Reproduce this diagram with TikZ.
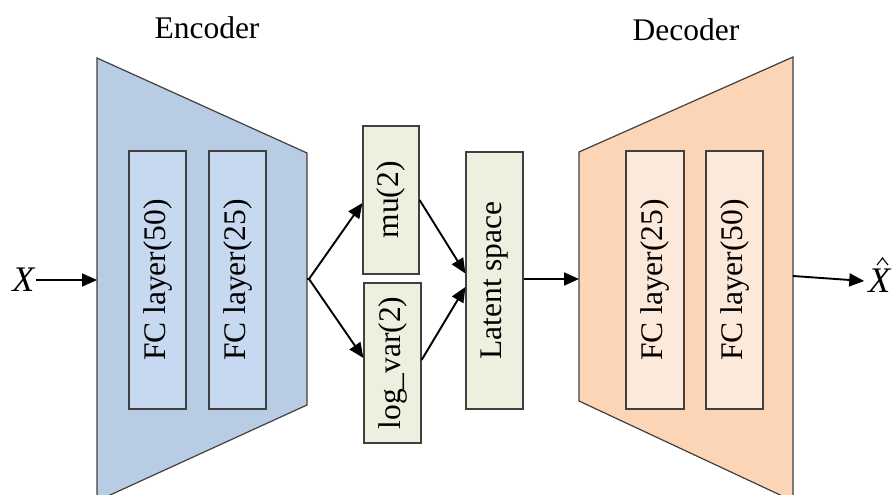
\documentclass[tikz,border=0pt]{standalone}
\usepackage{fontspec}
\setmainfont{Liberation Serif}
\usetikzlibrary{arrows.meta}
\definecolor{encfill}{HTML}{B8CCE4}
\definecolor{encbox}{HTML}{C6D9F1}
\definecolor{decfill}{HTML}{FBD5B5}
\definecolor{decbox}{HTML}{FDE9D9}
\definecolor{midbox}{HTML}{EBF1DE}
\definecolor{edge}{HTML}{404040}
\tikzset{
  lbl/.style={font=\fontsize{31.5}{37}\selectfont},
  layerbox/.style={draw=edge, line width=1.2pt, inner sep=0pt, lbl},
  trap/.style={draw=edge, line width=1.2pt},
  conn/.style={draw=black, line width=1.9pt, -{Triangle[length=15pt,width=13pt]}},
}
\begin{document}
\begin{tikzpicture}[x=1pt,y=-1pt]
\useasboundingbox (0,0) rectangle (892,495);
\begin{scope}
\clip (0,0) rectangle (892,495);
\draw[trap, fill=encfill] (97,58) -- (307,153) -- (307,405) -- (97,501) -- cycle;
\draw[trap, fill=decfill] (579,152) -- (793,57) -- (793,501) -- (579,401) -- cycle;
\end{scope}
\coordinate (encL) at (97,280);
\coordinate (encR) at (307,279);
\coordinate (branch) at (309,279);
\coordinate (decL) at (579,279);
\coordinate (decR) at (793,276);
\node[lbl] (enct) at (207,28) {Encoder};
\node[lbl] (dect) at (686,30) {Decoder};
\node[layerbox, fill=encbox, minimum width=57pt, minimum height=258pt] (e1) at (157.5,280) {\rotatebox{90}{FC layer(50)}};
\node[layerbox, fill=encbox, minimum width=57pt, minimum height=258pt] (e2) at (237.5,280) {\rotatebox{90}{FC layer(25)}};
\node[layerbox, fill=midbox, minimum width=56pt, minimum height=148pt] (mu) at (391,200) {\rotatebox{90}{mu(2)}};
\node[layerbox, fill=midbox, minimum width=57pt, minimum height=160pt] (lv) at (392.5,363) {\rotatebox{90}{log\_var(2)}};
\node[layerbox, fill=midbox, minimum width=57pt, minimum height=257pt] (lat) at (494.5,280.5) {\rotatebox{90}{Latent space}};
\node[layerbox, fill=decbox, minimum width=58pt, minimum height=258pt] (d1) at (655,280) {\rotatebox{90}{FC layer(25)}};
\node[layerbox, fill=decbox, minimum width=57pt, minimum height=258pt] (d2) at (734.5,280) {\rotatebox{90}{FC layer(50)}};
\node[font=\fontsize{36}{40}\selectfont, inner sep=0pt] (x) at (24,280) {\textit{X}};
\node[font=\fontsize{36}{40}\selectfont, inner sep=0pt] (xh) at (880,281) {\textit{X}};
\draw[line width=1.1pt, line join=miter] ([xshift=-3pt,yshift=4pt]xh.north) -- ([xshift=2.5pt,yshift=11pt]xh.north) -- ([xshift=8pt,yshift=4pt]xh.north);
\draw[conn] (x.east) -- (encL);
\draw[line width=1.9pt] (encR) -- (branch);
\draw[conn] (branch) -- ([yshift=-3pt]mu.west);
\draw[conn] (branch) -- ([yshift=5pt]lv.west);
\draw[conn] (mu.east) -- ([yshift=7pt]lat.west);
\draw[conn] ([yshift=3pt]lv.east) -- ([yshift=-6.5pt]lat.west);
\draw[conn] ([yshift=1.5pt]lat.east) -- (decL);
\draw[conn] (decR) -- ([xshift=-4pt,yshift=0pt]xh.west);
\end{tikzpicture}
\end{document}
